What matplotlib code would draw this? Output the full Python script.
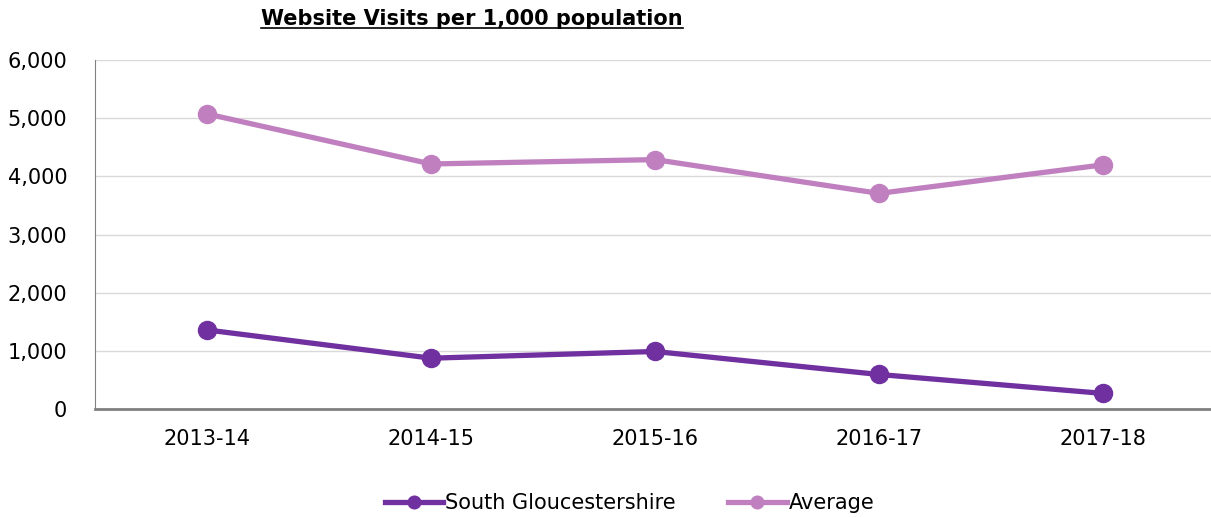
import matplotlib.pyplot as plt
from matplotlib.ticker import FuncFormatter

years = ['2013-14', '2014-15', '2015-16', '2016-17', '2017-18']
south_glos = [1365, 880, 995, 600, 275]
average = [5075, 4215, 4290, 3710, 4200]

fig = plt.figure(figsize=(12.11, 5.18), dpi=100)
ax = fig.add_axes([0.0784, 0.2096, 0.925, 0.6745])

x = range(len(years))
ax.plot(x, south_glos, color='#7030A0', lw=3.8, marker='o', ms=13, label='South Gloucestershire')
ax.plot(x, average, color='#C080C0', lw=3.8, marker='o', ms=13, label='Average')

ax.set_xlim(-0.5, 4.5)
ax.set_ylim(0, 6000)
ax.set_yticks(range(0, 6001, 1000))
ax.yaxis.set_major_formatter(FuncFormatter(lambda v, p: f'{int(v):,}'))
ax.set_xticks(list(x))
ax.set_xticklabels(years)
ax.grid(axis='y', color='#d9d9d9', lw=1)
ax.set_axisbelow(True)
ax.tick_params(length=0, labelsize=15, colors='black')
ax.tick_params(axis='x', pad=14)
ax.tick_params(axis='y', pad=20)
for s in ['top', 'right']:
    ax.spines[s].set_visible(False)
ax.spines['left'].set_color('#808080')
ax.spines['bottom'].set_color('#808080')
ax.spines['bottom'].set_linewidth(2)

t = fig.text(0.39, 0.963, 'Website Visits per 1,000 population', ha='center', va='center',
             fontsize=15, fontweight='bold')
fig.canvas.draw()
bb = t.get_window_extent()
inv = fig.transFigure.inverted()
(x0, y0), (x1, y1) = inv.transform([[bb.x0, bb.y0], [bb.x1, bb.y1]])
fig.add_artist(plt.Line2D([x0, x1], [y0 + 0.003, y0 + 0.003], transform=fig.transFigure, color='black', lw=1.2))

fig.legend(loc='center', bbox_to_anchor=(0.52, 0.028), ncol=2, frameon=False, fontsize=15,
           handlelength=2.8, handletextpad=0.1, columnspacing=2.5, markerscale=0.7)

fig.savefig('out.png', dpi=100)
